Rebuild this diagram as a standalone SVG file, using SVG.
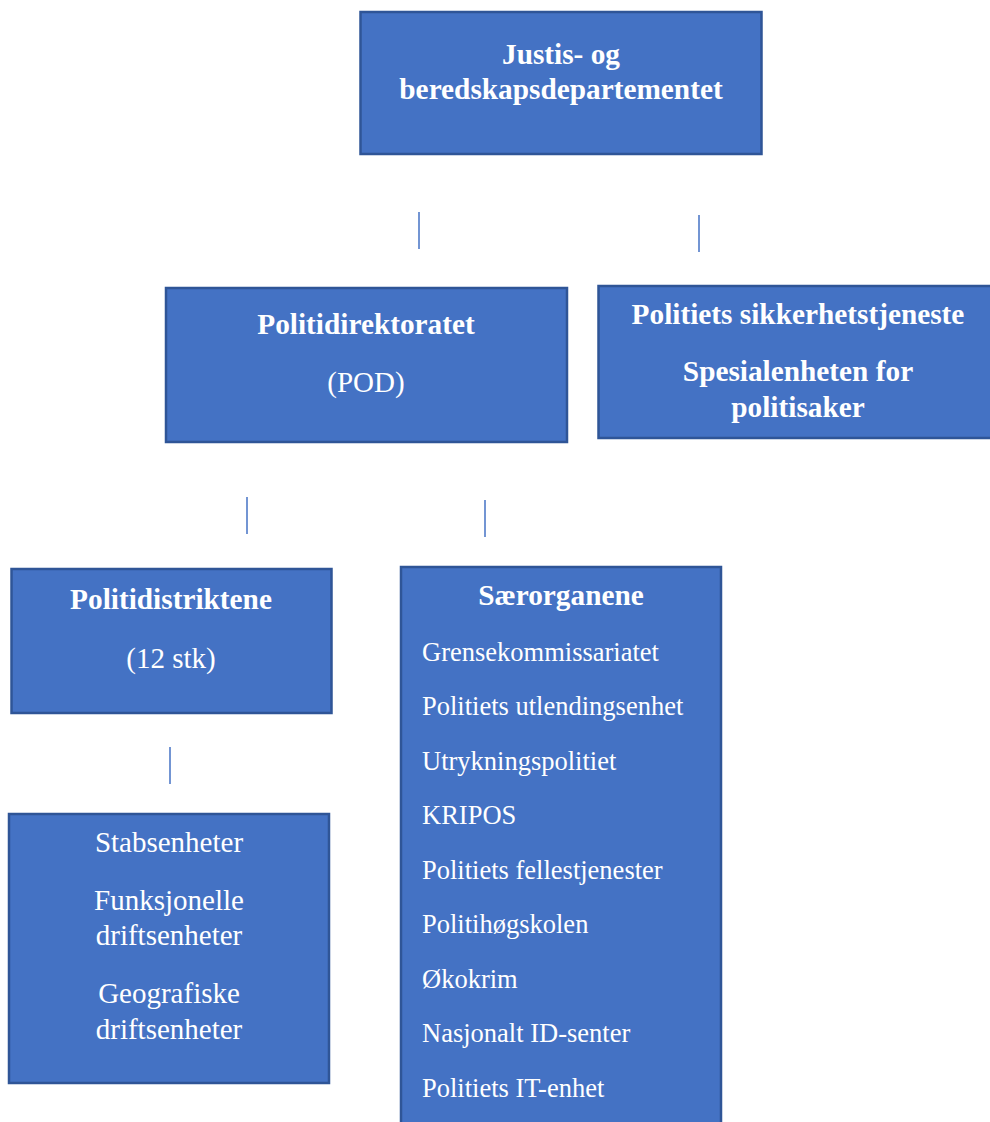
<svg xmlns="http://www.w3.org/2000/svg" width="990" height="1122" viewBox="0 0 990 1122">
<style>
.box{fill:#4472C4;stroke:#2F5597;stroke-width:2.5}
.t{font-family:"Liberation Serif","Times New Roman",serif;fill:#fff;font-size:29px}
.s{font-size:26.5px}
.b{font-weight:bold;font-size:29.3px}
.c{text-anchor:middle}
.ln{stroke:#4472C4;stroke-width:1.5}
</style>
<rect width="990" height="1122" fill="#fff"/>
<g id="connectors">
<line class="ln" x1="419" y1="212" x2="419" y2="249"/>
<line class="ln" x1="699" y1="215" x2="699" y2="252"/>
<line class="ln" x1="247" y1="497" x2="247" y2="534"/>
<line class="ln" x1="485" y1="500" x2="485" y2="537"/>
<line class="ln" x1="170" y1="747" x2="170" y2="784"/>
</g>
<g id="justis">
<rect class="box" x="360.5" y="12" width="401" height="142"/>
<text class="t b c" x="561" y="64">Justis- og</text>
<text class="t b c" x="561" y="99">beredskapsdepartementet</text>
</g>
<g id="pod">
<rect class="box" x="166" y="288" width="401" height="154"/>
<text class="t b c" x="366" y="334">Politidirektoratet</text>
<text class="t c" x="366" y="392">(POD)</text>
</g>
<g id="pst">
<rect class="box" x="598.5" y="286" width="395" height="152"/>
<text class="t b c" x="798" y="324">Politiets sikkerhetstjeneste</text>
<text class="t b c" x="798" y="381">Spesialenheten for</text>
<text class="t b c" x="798" y="417">politisaker</text>
</g>
<g id="distrikter">
<rect class="box" x="11.5" y="569" width="320" height="144"/>
<text class="t b c" x="171" y="609">Politidistriktene</text>
<text class="t c" x="171" y="668">(12 stk)</text>
</g>
<g id="enheter">
<rect class="box" x="9" y="814" width="320" height="269"/>
<text class="t c" x="169" y="852">Stabsenheter</text>
<text class="t c" x="169" y="910">Funksjonelle</text>
<text class="t c" x="169" y="945">driftsenheter</text>
<text class="t c" x="169" y="1003">Geografiske</text>
<text class="t c" x="169" y="1039">driftsenheter</text>
</g>
<g id="saerorganene">
<rect class="box" x="401" y="567" width="320" height="570"/>
<text class="t b c" x="561" y="605">Særorganene</text>
<text class="t s" x="422" y="661">Grensekommissariatet</text>
<text class="t s" x="422" y="715">Politiets utlendingsenhet</text>
<text class="t s" x="422" y="770">Utrykningspolitiet</text>
<text class="t s" x="422" y="824">KRIPOS</text>
<text class="t s" x="422" y="879">Politiets fellestjenester</text>
<text class="t s" x="422" y="933">Politihøgskolen</text>
<text class="t s" x="422" y="988">Økokrim</text>
<text class="t s" x="422" y="1042">Nasjonalt ID-senter</text>
<text class="t s" x="422" y="1097">Politiets IT-enhet</text>
</g>
</svg>
